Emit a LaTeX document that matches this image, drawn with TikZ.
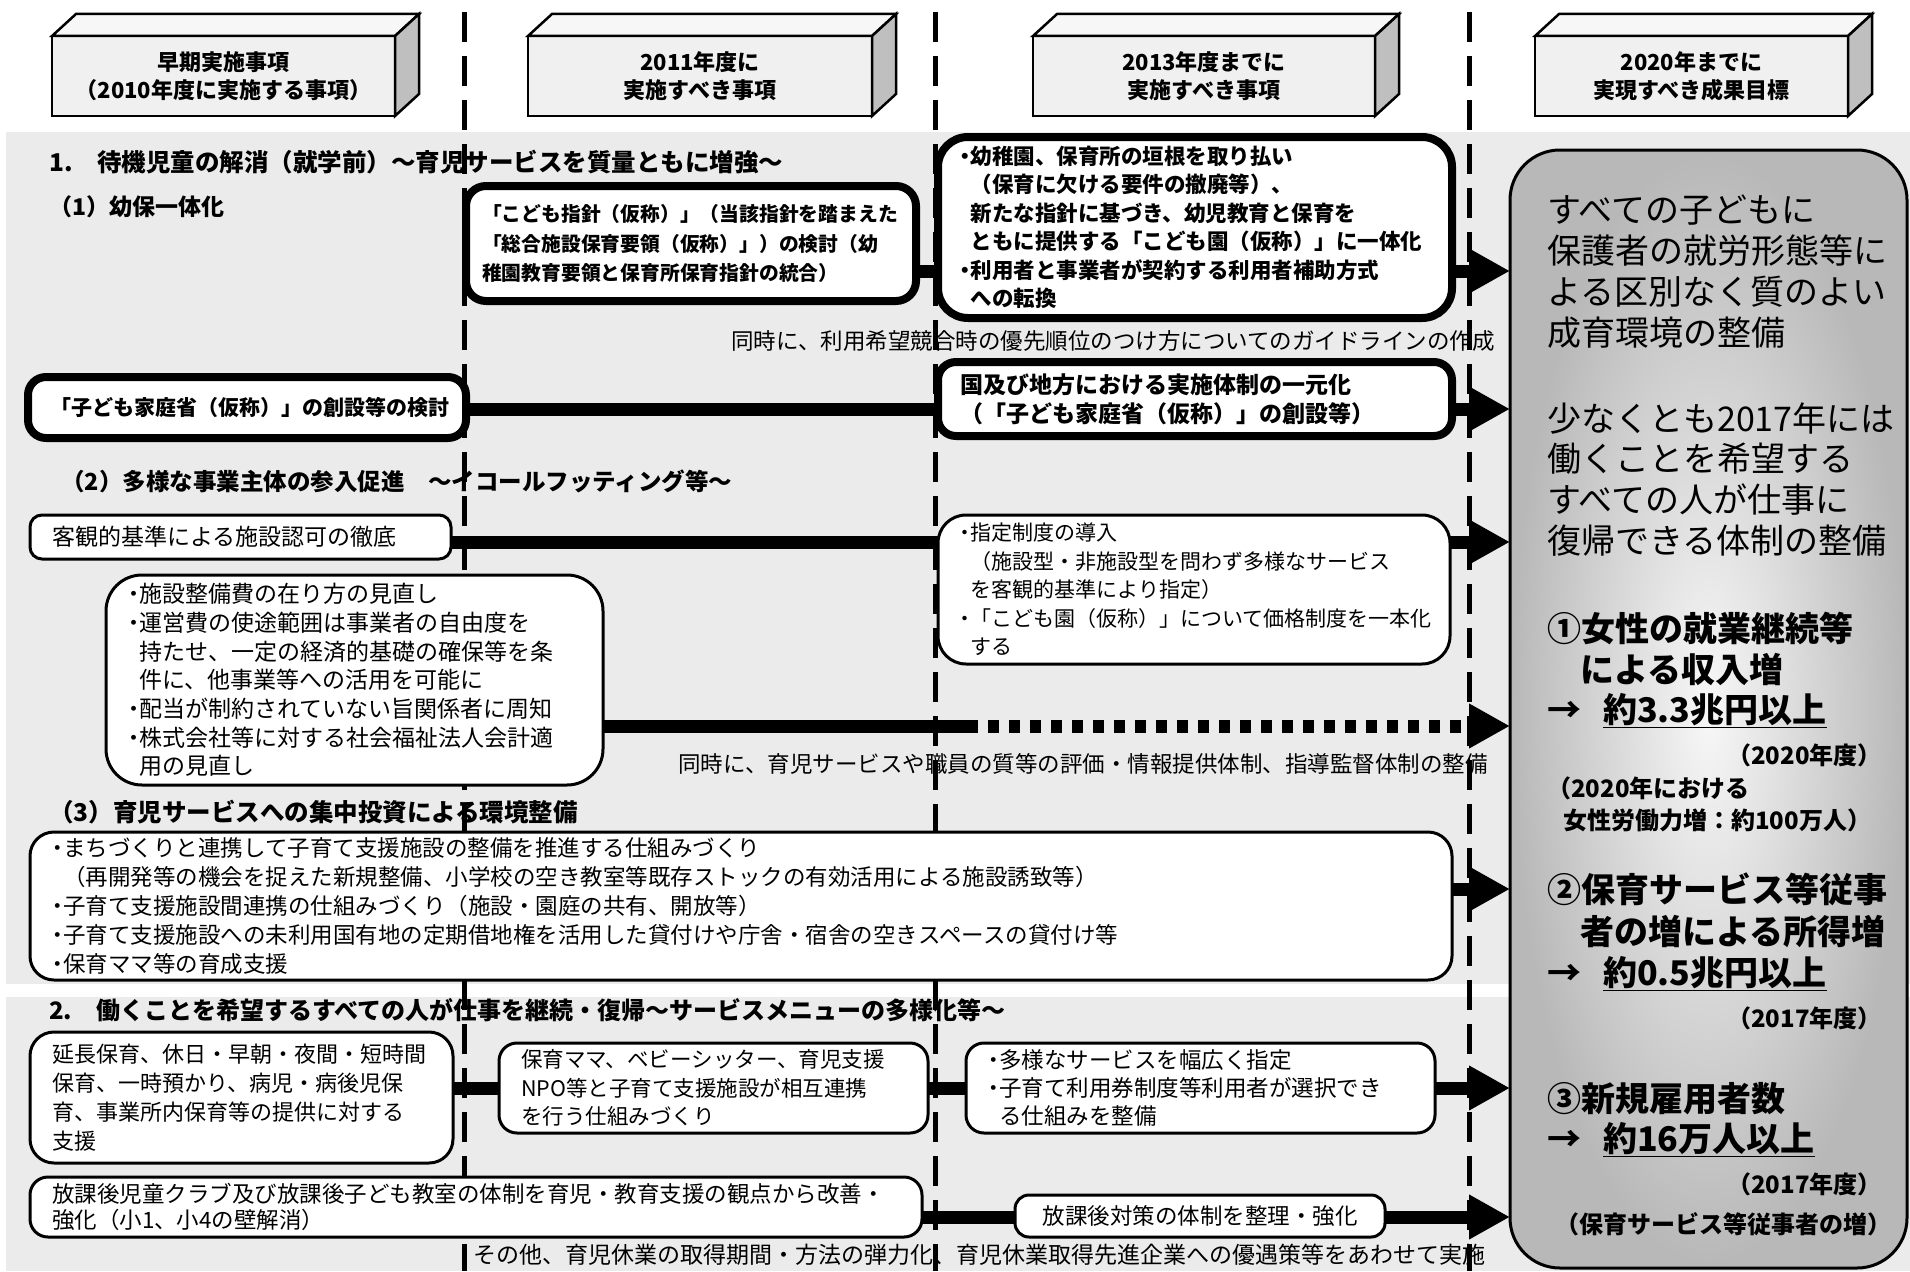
\documentclass[tikz,border=0pt]{standalone}
\usepackage{fontspec}
\setmainfont{Noto Sans CJK JP}
\usetikzlibrary{arrows.meta, calc, positioning}
\pgfdeclarelayer{back}
\pgfsetlayers{back,main}
\newcommand{\setfs}[2]{\fontsize{#1pt}{#2pt}\selectfont}
\newcommand{\bli}{\makebox[0.5em][c]{・}}
\newcommand{\bind}{\hspace*{0.5em}}

\begin{document}
\begin{tikzpicture}[x=1pt, y=-1pt]

\tikzset{
  % plain and heavy boxes
  tbox/.style={draw, fill=white, line width=3pt, rounded corners=16pt,
    anchor=north west, align=left, inner xsep=22pt, inner ysep=0pt, outer sep=0pt},
  kbox/.style={tbox, line width=8pt, rounded corners=24pt},
  hdbox/.style={draw, line width=2.5pt, fill=black!6, anchor=north west, align=center,
    minimum height=80pt, outer sep=0pt, font=\setfs{22}{28}\bfseries},
  heading/.style={anchor=west, inner sep=0pt, font=\setfs{24}{28}\bfseries},
  note/.style={anchor=west, inner sep=0pt, font=\setfs{22.5}{28}},
  goaltxt/.style={anchor=west, inner sep=0pt},
  % connectors
  link/.style={line width=13pt},
  arr/.style={link, -{Triangle[length=41pt, width=42pt]}},
  sepline/.style={line width=5pt, dash pattern=on 30pt off 14pt},
}

\useasboundingbox (0,0) rectangle (1910,1271);

% column heads
\node[hdbox, minimum width=343pt] (hd1) at (52,36) {早期実施事項\\（2010年度に実施する事項）};
\node[hdbox, minimum width=344pt] (hd2) at (528,36) {2011年度に\\実施すべき事項};
\node[hdbox, minimum width=342pt] (hd3) at (1033,36) {2013年度までに\\実施すべき事項};
\node[hdbox, minimum width=313pt] (hd4) at (1535,36) {2020年までに\\実現すべき成果目標};
\foreach \h in {hd1,hd2,hd3,hd4}{
  \draw[line width=2.5pt, fill=black!3] (\h.north west) -- ++(24,-22)
    -- ($(\h.north east)+(24,-22)$) -- (\h.north east) -- cycle;
  \draw[line width=2.5pt, fill=black!25] (\h.north east) -- ++(24,-22)
    -- ($(\h.south east)+(24,-22)$) -- (\h.south east) -- cycle;
}

% goal column
\node[draw, line width=3pt, rounded corners=50pt, inner color=black!3, outer color=black!28,
  minimum width=397pt, minimum height=1118pt, anchor=north west, outer sep=0pt] (goal) at (1510,150) {};
\foreach \y/\t in {210/すべての子どもに, 251/保護者の就労形態等に, 292/よる区別なく質のよい,
  333/成育環境の整備, 419/少なくとも2017年には, 459/働くことを希望する,
  500/すべての人が仕事に, 541/復帰できる体制の整備}
  \node[goaltxt, font=\setfs{34}{40}] (gt\y) at (1547,\y) {\t};
\foreach \x/\y/\t in {1547/628/①女性の就業継続等, 1580/669/による収入増,
  1547/711/{→\hspace{22pt}\underline{約3.3兆円以上}},
  1547/889/②保育サービス等従事, 1580/932/者の増による所得増,
  1547/974/{→\hspace{22pt}\underline{約0.5兆円以上}},
  1547/1099/③新規雇用者数, 1547/1140/{→\hspace{22pt}\underline{約16万人以上}}}
  \node[goaltxt, font=\setfs{34}{40}\bfseries] (gb\y) at (\x,\y) {\t};
\foreach \x/\y/\t in {1547/788/（2020年における, 1563/820/女性労働力増：約100万人）,
  1555/1224/（保育サービス等従事者の増）}
  \node[goaltxt, font=\setfs{24}{28}\bfseries] (gs\y) at (\x,\y) {\t};
\foreach \y/\t in {755/（2020年度）, 1018/（2017年度）, 1184/（2017年度）}
  \node[goaltxt, anchor=east, font=\setfs{24}{28}\bfseries] (gy\y) at (1882,\y) {\t};

% section titles and notes
\node[heading, font=\setfs{24.5}{28}\bfseries] (sec1) at (49,162) {1.　待機児童の解消（就学前）～育児サービスを質量ともに増強～};
\node[heading, font=\setfs{23}{28}\bfseries] (sub1) at (49,207) {（1）幼保一体化};
\node[heading, font=\setfs{23.5}{28}\bfseries] (sub2) at (61,481) {（2）多様な事業主体の参入促進　～イコールフッティング等～};
\node[heading, font=\setfs{24.5}{28}\bfseries] (sub3) at (49,812) {（3）育児サービスへの集中投資による環境整備};
\node[heading] (sec2) at (49,1010) {2.　働くことを希望するすべての人が仕事を継続・復帰～サービスメニューの多様化等～};
\node[note] (nt1) at (731,341) {同時に、利用希望競合時の優先順位のつけ方についてのガイドラインの作成};
\node[note] (nt2) at (678,764) {同時に、育児サービスや職員の質等の評価・情報提供体制、指導監督体制の整備};
\node[note, font=\setfs{23}{28}] (nt3) at (473,1255) {その他、育児休業の取得期間・方法の弾力化、育児休業取得先進企業への優遇策等をあわせて実施};

% (1)
\node[kbox, inner xsep=16pt, text width=418pt, minimum height=115pt, rounded corners=20pt,
  font=\setfs{19.8}{29.5}\bfseries] (A) at (466,186)
  {「こども指針（仮称）」（当該指針を踏まえた\\「総合施設保育要領（仮称）」）の検討（幼\\稚園教育要領と保育所保育指針の統合）};
\node[kbox, text width=470pt, minimum height=181pt, rounded corners=30pt,
  font=\setfs{21.5}{28.5}\bfseries] (B) at (938,137)
  {\bli{}幼稚園、保育所の垣根を取り払い\\\bind{}（保育に欠ける要件の撤廃等）、\\
   \bind{}新たな指針に基づき、幼児教育と保育を\\\bind{}ともに提供する「こども園（仮称）」に一体化\\
   \bli{}利用者と事業者が契約する利用者補助方式\\\bind{}への転換};
\node[kbox, text width=394pt, minimum height=61pt, rounded corners=18pt,
  font=\setfs{21}{28}\bfseries] (C) at (28,377) {「子ども家庭省（仮称）」の創設等の検討};
\node[kbox, text width=470pt, minimum height=74pt, rounded corners=18pt,
  font=\setfs{23}{29}\bfseries] (D) at (938,362)
  {国及び地方における実施体制の一元化\\（「子ども家庭省（仮称）」の創設等）};

% (2)
\node[tbox, text width=377pt, minimum height=44pt, rounded corners=12pt,
  font=\setfs{23}{28}] (E) at (30,515) {客観的基準による施設認可の徹底};
\node[tbox, text width=468pt, minimum height=149pt, rounded corners=28pt,
  font=\setfs{21}{28.5}] (F) at (938,515)
  {\bli{}指定制度の導入\\\bind{}（施設型・非施設型を問わず多様なサービス\\\bind{}を客観的基準により指定）\\
   \bli{}「こども園（仮称）」について価格制度を一本化\\\bind{}する};
\node[tbox, text width=453pt, minimum height=210pt, rounded corners=36pt,
  font=\setfs{23}{28.7}] (G) at (106,575)
  {\bli{}施設整備費の在り方の見直し\\\bli{}運営費の使途範囲は事業者の自由度を\\
   \bind{}持たせ、一定の経済的基礎の確保等を条\\\bind{}件に、他事業等への活用を可能に\\
   \bli{}配当が制約されていない旨関係者に周知\\\bli{}株式会社等に対する社会福祉法人会計適\\
   \bind{}用の見直し};

% (3)
\node[tbox, text width=1378pt, minimum height=148pt, rounded corners=24pt,
  font=\setfs{22.5}{29}] (H) at (30,832)
  {\bli{}まちづくりと連携して子育て支援施設の整備を推進する仕組みづくり\\
   \bind{}（再開発等の機会を捉えた新規整備、小学校の空き教室等既存ストックの有効活用による施設誘致等）\\
   \bli{}子育て支援施設間連携の仕組みづくり（施設・園庭の共有、開放等）\\
   \bli{}子育て支援施設への未利用国有地の定期借地権を活用した貸付けや庁舎・宿舎の空きスペースの貸付け等\\
   \bli{}保育ママ等の育成支援};

% 2.
\node[tbox, text width=379pt, minimum height=131pt, rounded corners=24pt,
  font=\setfs{22}{29}] (I) at (30,1032)
  {延長保育、休日・早朝・夜間・短時間\\保育、一時預かり、病児・病後児保\\育、事業所内保育等の提供に対する\\支援};
\node[tbox, text width=385pt, minimum height=90pt, rounded corners=18pt,
  font=\setfs{21.5}{28.5}] (J) at (499,1043)
  {保育ママ、ベビーシッター、育児支援\\NPO等と子育て支援施設が相互連携\\を行う仕組みづくり};
\node[tbox, text width=425pt, minimum height=90pt, rounded corners=18pt,
  font=\setfs{22.5}{28}] (K) at (966,1043)
  {\bli{}多様なサービスを幅広く指定\\\bli{}子育て利用券制度等利用者が選択でき\\\bind{}る仕組みを整備};
\node[tbox, text width=848pt, minimum height=60pt, rounded corners=18pt,
  font=\setfs{22.5}{26}] (L) at (30,1177)
  {放課後児童クラブ及び放課後子ども教室の体制を育児・教育支援の観点から改善・\\強化（小1、小4の壁解消）};
\node[tbox, text width=326pt, minimum height=42pt, align=center, rounded corners=14pt,
  font=\setfs{22.5}{26}] (M) at (1015,1195) {放課後対策の体制を整理・強化};

% rows of the connectors
\coordinate (r1) at (0,271);
\coordinate (r2) at (0,409);
\coordinate (r3) at (0,542);
\coordinate (r4) at (0,726);
\coordinate (r5) at (0,889);
\coordinate (r6) at (0,1088);
\coordinate (r7) at (0,1217);
\coordinate (gsw) at (967,726);

\begin{pgfonlayer}{back}
  \fill[white] (0,0) rectangle (1910,1271);
  \fill[black!8] (6,132) rectangle (1910,984);
  \fill[black!8] (6,997) rectangle (1910,1271);
  \foreach \x in {464,935,1469}
    \draw[sepline] (\x,12) -- (\x,1271);

  \draw[link] (A.east |- r1) -- (B.west |- r1);
  \draw[arr] (B.east |- r1) -- (goal.west |- r1);
  \draw[link] (C.east |- r2) -- (D.west |- r2);
  \draw[arr] (D.east |- r2) -- (goal.west |- r2);
  \draw[link] (E.east |- r3) -- (F.west |- r3);
  \draw[arr] (F.east |- r3) -- (goal.west |- r3);
  \draw[link] (G.east |- r4) -- (gsw);
  \draw[arr, dash pattern=on 11pt off 10pt] (gsw) -- (goal.west |- r4);
  \draw[arr] (H.east |- r5) -- (goal.west |- r5);
  \draw[link] (I.east |- r6) -- (J.west |- r6);
  \draw[link] (J.east |- r6) -- (K.west |- r6);
  \draw[arr] (K.east |- r6) -- (goal.west |- r6);
  \draw[link] (L.east |- r7) -- (M.west |- r7);
  \draw[arr] (M.east |- r7) -- (goal.west |- r7);
\end{pgfonlayer}

\end{tikzpicture}
\end{document}
